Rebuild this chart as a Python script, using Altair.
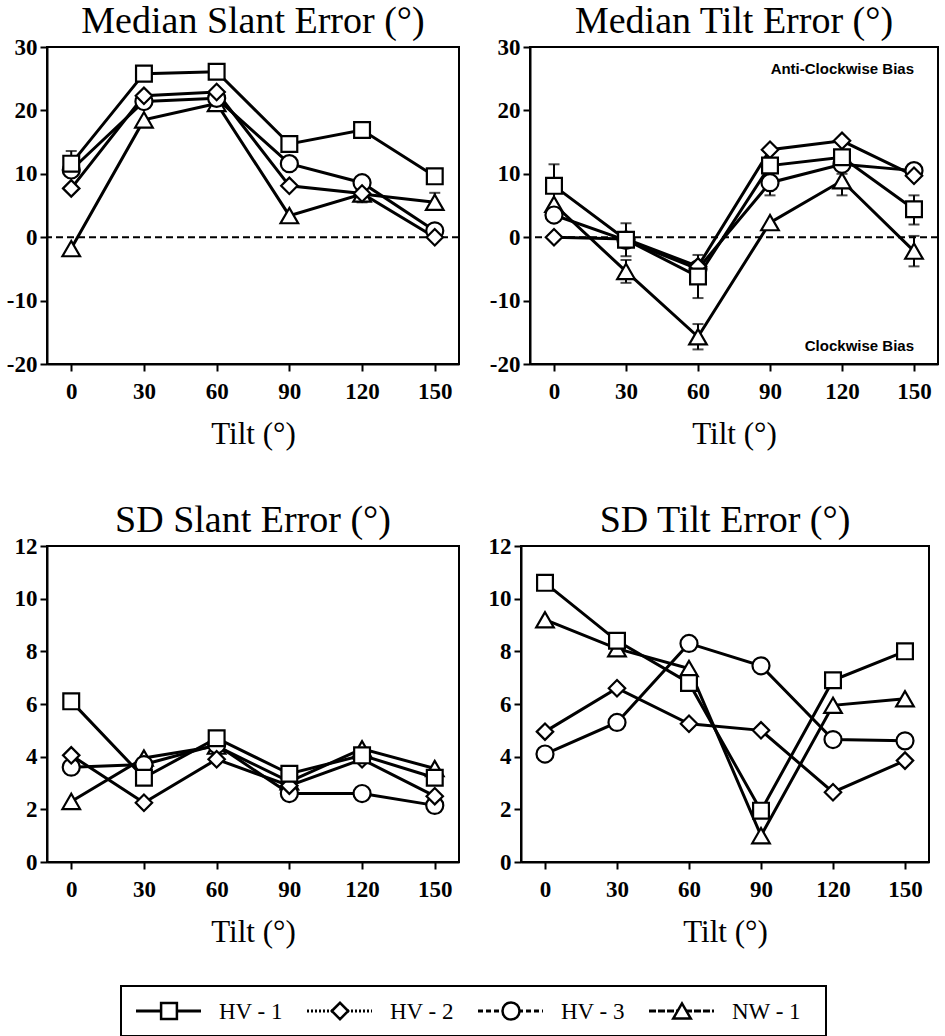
import altair as alt
import pandas as pd

# ---------------- data ----------------
tilts = [0, 30, 60, 90, 120, 150]
series_names = ["HV - 1", "HV - 2", "HV - 3", "NW - 1"]
shape_names = ["square", "diamond", "circle", "triangle-up"]
legend_dashes = [[1, 0], [2, 2], [5, 3], [7, 2]]
draw_order = ["NW - 1", "HV - 3", "HV - 2", "HV - 1"]

med_slant_hv1 = [11.6, 25.8, 26.1, 14.7, 16.9, 9.6]
med_slant_hv2 = [7.7, 22.3, 22.9, 8.1, 6.9, 0.0]
med_slant_hv3 = [10.6, 21.4, 21.9, 11.6, 8.6, 1.0]
med_slant_nw1 = [-1.8, 18.5, 21.1, 3.4, 6.8, 5.5]

med_tilt_hv1 = [8.1, -0.4, -6.2, 11.3, 12.6, 4.4]
med_tilt_hv2 = [0.0, -0.3, -4.6, 13.8, 15.2, 9.7]
med_tilt_hv3 = [3.5, -0.5, -5.0, 8.6, 11.5, 10.5]
med_tilt_nw1 = [5.2, -5.4, -15.7, 2.3, 8.9, -2.2]

sd_slant_hv1 = [6.1, 3.2, 4.7, 3.35, 4.05, 3.2]
sd_slant_hv2 = [4.05, 2.25, 3.9, 2.9, 3.9, 2.5]
sd_slant_hv3 = [3.6, 3.7, 4.45, 2.6, 2.6, 2.15]
sd_slant_nw1 = [2.3, 3.95, 4.4, 3.05, 4.3, 3.55]

sd_tilt_hv1 = [10.6, 8.4, 6.8, 1.95, 6.9, 8.0]
sd_tilt_hv2 = [4.95, 6.6, 5.25, 5.0, 2.65, 3.85]
sd_tilt_hv3 = [4.1, 5.3, 8.3, 7.45, 4.65, 4.6]
sd_tilt_nw1 = [9.2, 8.1, 7.35, 1.0, 5.95, 6.2]

# error bars (median panels)
err_mslant_series = ["HV - 1", "NW - 1", "NW - 1"]
err_mslant_tilt = [0, 120, 150]
err_mslant_lo = [9.6, 5.5, 4.3]
err_mslant_hi = [13.6, 8.1, 7.0]

err_mtilt_series = ["HV - 1", "HV - 1", "NW - 1", "HV - 1", "NW - 1",
                    "HV - 3", "NW - 1", "HV - 1", "NW - 1"]
err_mtilt_tilt = [0, 30, 30, 60, 60, 90, 120, 150, 150]
err_mtilt_lo = [4.7, -3.0, -7.2, -9.6, -17.7, 6.6, 6.6, 2.0, -4.6]
err_mtilt_hi = [11.5, 2.2, -3.6, -2.8, -13.7, 10.6, 10.0, 6.6, 0.2]

note_text = ["Anti-Clockwise Bias", "Clockwise Bias"]
note_x = [150, 150]
note_y = [26.5, -17.2]

SERIF = "Liberation Serif"

shape_scale = alt.Scale(domain=series_names, range=shape_names)
size_scale = alt.Scale(domain=series_names, range=[250, 310, 250, 290])


def make_df(vals):
    rows = []
    for name in draw_order:
        i = series_names.index(name)
        for t, v in zip(tilts, vals[i]):
            rows.append({"series": name, "tilt": t, "value": v})
    return pd.DataFrame(rows)


def panel(vals, title, ydom, yticks, errs=None, zero_line=False, notes=False, width=412, height=316):
    df = make_df(vals)
    xenc = alt.X("tilt:Q", scale=alt.Scale(domain=[-10, 160], nice=False, zero=False),
                 axis=alt.Axis(values=tilts, title="Tilt (°)"))
    yenc = alt.Y("value:Q", scale=alt.Scale(domain=ydom, nice=False, zero=False),
                 axis=alt.Axis(values=yticks, title=None, labelExpr="'' + datum.value"))
    layers = []
    if zero_line:
        zdf = pd.DataFrame({"zero": [0]})
        layers.append(alt.Chart(zdf).mark_rule(color="black", strokeWidth=2, strokeDash=[7, 4])
                      .encode(y=alt.Y("zero:Q", scale=alt.Scale(domain=ydom))))
    lines = alt.Chart(df).mark_line(color="black", strokeWidth=3).encode(
        x=xenc, y=yenc, detail="series:N")
    layers.append(lines)
    if errs is not None:
        edf = pd.DataFrame({"series": errs[0], "tilt": errs[1], "lo": errs[2], "hi": errs[3]})
        eb = alt.Chart(edf)
        layers.append(eb.mark_rule(color="black", strokeWidth=2).encode(
            x="tilt:Q", y="lo:Q", y2="hi:Q"))
        layers.append(eb.mark_tick(color="black", thickness=2, size=11, orient="horizontal").encode(
            x="tilt:Q", y="lo:Q"))
        layers.append(eb.mark_tick(color="black", thickness=2, size=11, orient="horizontal").encode(
            x="tilt:Q", y="hi:Q"))
    pts = alt.Chart(df).mark_point(filled=True, fill="white", stroke="black", strokeWidth=2.2,
                                   opacity=1).encode(
        x=xenc, y=yenc,
        shape=alt.Shape("series:N", scale=shape_scale, legend=None),
        size=alt.Size("series:N", scale=size_scale, legend=None))
    layers.append(pts)
    if notes:
        ndf = pd.DataFrame({"txt": note_text, "x": note_x, "y": note_y})
        layers.append(alt.Chart(ndf).mark_text(align="right", baseline="middle",
                                               font="Liberation Sans", fontSize=15,
                                               fontWeight="bold", color="black")
                      .encode(x="x:Q", y="y:Q", text="txt:N"))
    return alt.layer(*layers).properties(width=width, height=height,
                                         title=alt.TitleParams(title))


p1 = panel([med_slant_hv1, med_slant_hv2, med_slant_hv3, med_slant_nw1],
           "Median Slant Error (°)", [-20, 30], [-20, -10, 0, 10, 20, 30],
           errs=(err_mslant_series, err_mslant_tilt, err_mslant_lo, err_mslant_hi),
           zero_line=True, width=412, height=317)
p2 = panel([med_tilt_hv1, med_tilt_hv2, med_tilt_hv3, med_tilt_nw1],
           "Median Tilt Error (°)", [-20, 30], [-20, -10, 0, 10, 20, 30],
           errs=(err_mtilt_series, err_mtilt_tilt, err_mtilt_lo, err_mtilt_hi),
           zero_line=True, notes=True, width=408, height=317)
p3 = panel([sd_slant_hv1, sd_slant_hv2, sd_slant_hv3, sd_slant_nw1],
           "SD Slant Error (°)", [0, 12], [0, 2, 4, 6, 8, 10, 12], width=412, height=316)
p4 = panel([sd_tilt_hv1, sd_tilt_hv2, sd_tilt_hv3, sd_tilt_nw1],
           "SD Tilt Error (°)", [0, 12], [0, 2, 4, 6, 8, 10, 12], width=408, height=316)

# legend built as a small chart
leg_df = pd.DataFrame({"series": series_names})
lx = alt.X("series:N", sort=series_names,
           scale=alt.Scale(type="point", range=[48, 561], padding=0), axis=None)
leg_base = alt.Chart(leg_df)
leg_line = leg_base.mark_rule(strokeWidth=3, color="black", xOffset=-33, x2Offset=32).encode(
    x=lx, x2="series:N", y=alt.value(25),
    strokeDash=alt.StrokeDash("series:N", scale=alt.Scale(domain=series_names, range=legend_dashes),
                              legend=None))
leg_pts = leg_base.mark_point(filled=True, fill="white", stroke="black", strokeWidth=2.5,
                              opacity=1).encode(
    x=lx, y=alt.value(25), shape=alt.Shape("series:N", scale=shape_scale, legend=None),
    size=alt.Size("series:N", scale=size_scale, legend=None))
leg_txt = leg_base.mark_text(align="left", baseline="middle", dx=50, font=SERIF, fontSize=23,
                             color="black").encode(x=lx, y=alt.value(26), text="series:N")
legend = alt.layer(leg_line, leg_pts, leg_txt).properties(width=705, height=50)

# invisible spacer to place the legend box
spacer = alt.Chart(leg_df).mark_point(opacity=0).encode(
    x=alt.value(0), y=alt.value(0)
).properties(width=72, height=50, view=alt.ViewBackground(stroke="transparent"))

legend_row = alt.hconcat(spacer, legend, spacing=0)

top = alt.hconcat(p1, p2, spacing=27)
bottom = alt.hconcat(p3, p4, spacing=27)
grid = alt.vconcat(top, bottom, spacing=51)

chart = alt.vconcat(grid, legend_row, spacing=34).properties(
    padding={"left": 5, "top": 2, "right": 0, "bottom": 0}
).configure_view(
    stroke="black", strokeWidth=2
).configure_axis(
    grid=False, domainColor="black", domainWidth=2, tickColor="black", tickWidth=2,
    tickSize=7, labelFont=SERIF, labelFontSize=23, labelFontWeight="bold", labelColor="black",
    titleFont=SERIF, titleFontSize=31, titleFontWeight="normal",
    titleColor="black", titlePadding=16
).configure_axisX(
    labelPadding=9
).configure_axisY(
    labelPadding=3
).configure_title(
    font=SERIF, fontSize=38, fontWeight="normal", color="black", anchor="middle", offset=-5
)

chart.save("out.html", embed_options={"renderer": "svg", "actions": False})
